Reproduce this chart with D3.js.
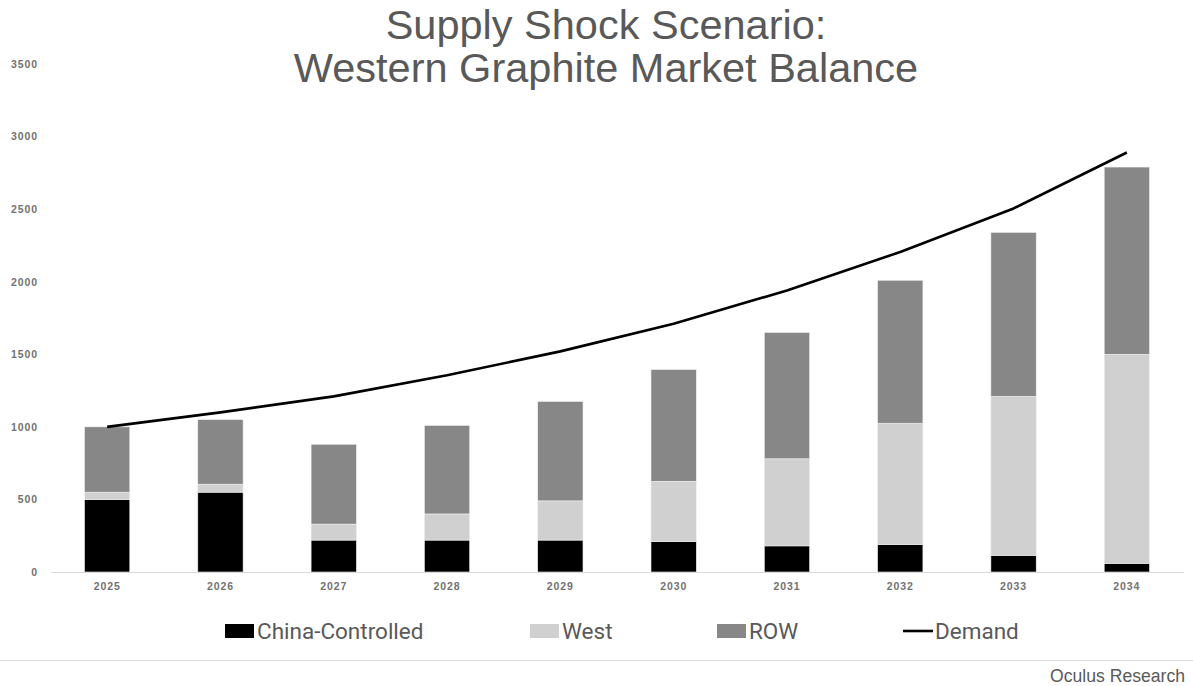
<!DOCTYPE html>
<html>
<head>
<meta charset="utf-8">
<script src="https://cdn.jsdelivr.net/npm/d3@7"></script>
<style>
  html, body { margin: 0; padding: 0; background: #fff; }
  svg { display: block; }
</style>
</head>
<body>
<svg id="chart" width="1193" height="686"></svg>
<script>
// Supply mix by source (kt) and total demand, 2025–2034
const years = ["2025", "2026", "2027", "2028", "2029", "2030", "2031", "2032", "2033", "2034"];
const chinaControlled = [500, 550, 220, 220, 220, 210, 180, 190, 115, 60];
const west = [50, 55, 110, 180, 270, 415, 600, 835, 1095, 1440];
const row = [450, 445, 550, 610, 685, 770, 870, 985, 1130, 1290];
const demand = [1000, 1100, 1210, 1355, 1520, 1710, 1940, 2205, 2505, 2890];
const yTicks = [0, 500, 1000, 1500, 2000, 2500, 3000, 3500];
const seriesNames = ["China-Controlled", "West", "ROW"];
const seriesColors = ["#000000", "#d0d0d0", "#878787"];

const svg = d3.select("#chart");
const W = 1193, H = 686;

const x = d3.scaleBand().domain(years).range([50.5, 1183.5]).paddingInner(0.6).paddingOuter(0.3);
const y = d3.scaleLinear().domain([0, 3500]).range([572, 64]);

// Title, two lines
const titleLines = ["Supply Shock Scenario:", "Western Graphite Market Balance"];
svg.append("g").selectAll("text")
  .data(titleLines)
  .join("text")
  .attr("x", 606)
  .attr("y", (d, i) => i === 0 ? 39 : 82)
  .attr("text-anchor", "middle")
  .attr("font-family", "'Liberation Sans', Arial, sans-serif")
  .attr("font-size", 41.5)
  .attr("fill", "#595959")
  .text(d => d);

const tickFont = sel => sel
  .attr("font-family", "'Liberation Sans', Arial, sans-serif")
  .attr("font-size", 10.5)
  .attr("letter-spacing", 0.9)
  .attr("font-weight", "bold")
  .attr("fill", "#727272");

// Y axis labels (no axis line)
const yAxis = d3.axisLeft(y).tickValues(yTicks).tickSize(0).tickPadding(0).tickFormat(d3.format("d"));
const gy = svg.append("g").attr("transform", "translate(38,0)").call(yAxis);
gy.select(".domain").remove();
gy.selectAll("text").call(tickFont);

// Stacked bars
const table = years.map((yr, i) => ({ year: yr, "China-Controlled": chinaControlled[i], "West": west[i], "ROW": row[i] }));
const stacked = d3.stack().keys(seriesNames)(table);

svg.append("g").selectAll("g")
  .data(stacked)
  .join("g")
  .attr("fill", (d, i) => seriesColors[i])
  .selectAll("rect")
  .data(d => d)
  .join("rect")
  .attr("x", d => x(d.data.year))
  .attr("width", x.bandwidth())
  .attr("y", d => y(d[1]))
  .attr("height", d => y(d[0]) - y(d[1]))
  .attr("stroke", "#f0f0f0")
  .attr("stroke-width", 0.6);

// X axis
const xAxis = d3.axisBottom(x).tickSize(0).tickPadding(11);
const gx = svg.append("g").attr("transform", "translate(0,572)").call(xAxis);
gx.select(".domain").attr("stroke", "#d9d9d9").attr("stroke-width", 1.2);
gx.selectAll("text").call(tickFont);

// Demand line
const line = d3.line()
  .x((d, i) => x(years[i]) + x.bandwidth() / 2)
  .y(d => y(d));
svg.append("path")
  .datum(demand)
  .attr("fill", "none")
  .attr("stroke", "#000")
  .attr("stroke-width", 2.6)
  .attr("stroke-linejoin", "round")
  .attr("d", line);

// Legend
const legendItems = [
  { name: "China-Controlled", type: "rect", color: seriesColors[0], x: 225 },
  { name: "West", type: "rect", color: seriesColors[1], x: 530 },
  { name: "ROW", type: "rect", color: seriesColors[2], x: 717 },
  { name: "Demand", type: "line", color: "#000", x: 903 }
];
const lg = svg.append("g");
legendItems.forEach(it => {
  const g = lg.append("g").attr("transform", `translate(${it.x},631)`);
  if (it.type === "rect") {
    g.append("rect").attr("x", 0).attr("y", -7).attr("width", 29).attr("height", 14).attr("fill", it.color);
  } else {
    g.append("line").attr("x1", 0).attr("x2", 30).attr("y1", 0).attr("y2", 0)
      .attr("stroke", it.color).attr("stroke-width", 2.6);
  }
  g.append("text")
    .attr("x", 32)
    .attr("y", 0)
    .attr("dy", "0.36em")
    .attr("font-family", "Roboto, 'Liberation Sans', sans-serif")
    .attr("font-size", 22.5)
    .attr("fill", "#595959")
    .text(it.name);
});

// Footer rule and source
svg.append("line").attr("x1", 0).attr("x2", W).attr("y1", 660.5).attr("y2", 660.5)
  .attr("stroke", "#dcdcdc").attr("stroke-width", 1.2);
svg.append("text")
  .attr("x", 1185).attr("y", 682)
  .attr("text-anchor", "end")
  .attr("font-family", "'Liberation Sans', Arial, sans-serif")
  .attr("font-size", 17.6)
  .attr("fill", "#5a5a5a")
  .text("Oculus Research");
</script>
</body>
</html>
